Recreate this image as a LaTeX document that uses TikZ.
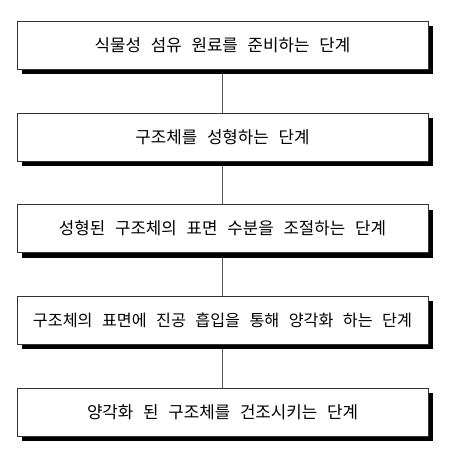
\documentclass[tikz,border=0pt]{standalone}
\usepackage{fontspec}
\newfontfamily\krfont[WordSpace=2.6]{Noto Sans CJK KR}
\usetikzlibrary{shadows,backgrounds}

\begin{document}
\begin{tikzpicture}[x=1pt, y=1pt,
    stepbox/.style={draw=black!80, line width=0.8pt, fill=white,
      minimum width=411pt, minimum height=48pt, inner sep=0pt,
      font=\krfont\fontsize{16.8}{20}\selectfont,
      drop shadow={shadow xshift=5pt, shadow yshift=-5pt, fill=black, opacity=1}},
    link/.style={draw=black!65, line width=0.8pt}]
    \useasboundingbox (0,0) rectangle (448,-460);
    %%Các bước
    \node[stepbox] (s1) at (222.5,-45) {식물성 섬유 원료를 준비하는 단계};
    \node[stepbox] (s2) at (222.5,-137) {구조체를 성형하는 단계};
    \node[stepbox] (s3) at (222.5,-228.5) {성형된 구조체의 표면 수분을 조절하는 단계};
    \node[stepbox] (s4) at (222.5,-320) {\fontsize{16.2}{20}\selectfont 구조체의 표면에 진공 흡입을 통해 양각화 하는 단계};
    \node[stepbox] (s5) at (222.5,-412) {양각화 된 구조체를 건조시키는 단계};
    %%Đường nối
    \begin{pgfonlayer}{background}
    \draw[link] (s1) -- (s2);
    \draw[link] (s2) -- (s3);
    \draw[link] (s3) -- (s4);
    \draw[link] (s4) -- (s5);
    \end{pgfonlayer}
\end{tikzpicture}
\end{document}
